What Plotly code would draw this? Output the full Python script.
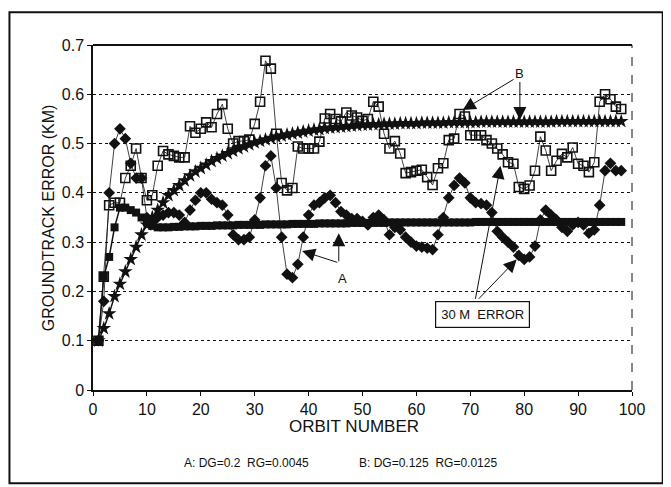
import plotly.graph_objects as go

orbits = list(range(1, 99))

# A: DG=0.2 RG=0.0045 with 30 m error (filled diamonds)
a_err = [0.10, 0.18, 0.40, 0.50, 0.53, 0.51, 0.46, 0.43, 0.43, 0.35,
         0.34, 0.35, 0.355, 0.36, 0.36, 0.355, 0.34, 0.365, 0.385, 0.40,
         0.40, 0.387, 0.38, 0.375, 0.355, 0.315, 0.305, 0.305, 0.31, 0.345,
         0.39, 0.455, 0.475, 0.41, 0.31, 0.235, 0.228, 0.255, 0.31, 0.355,
         0.375, 0.38, 0.39, 0.395, 0.38, 0.362, 0.355, 0.348, 0.348, 0.342,
         0.335, 0.35, 0.355, 0.345, 0.315, 0.33, 0.325, 0.31, 0.30, 0.292,
         0.29, 0.288, 0.285, 0.315, 0.35, 0.39, 0.415, 0.43, 0.42, 0.39,
         0.38, 0.378, 0.375, 0.36, 0.322, 0.31, 0.30, 0.29, 0.273, 0.265,
         0.27, 0.292, 0.345, 0.365, 0.355, 0.345, 0.33, 0.322, 0.335, 0.34,
         0.335, 0.318, 0.325, 0.375, 0.445, 0.46, 0.445, 0.445]

# B: DG=0.125 RG=0.0125 with 30 m error (open squares)
b_err = [0.10, 0.23, 0.375, 0.38, 0.38, 0.43, 0.455, 0.49, 0.43, 0.385,
         0.395, 0.455, 0.485, 0.478, 0.475, 0.472, 0.472, 0.535, 0.522, 0.53,
         0.543, 0.533, 0.56, 0.58, 0.53, 0.50, 0.505, 0.505, 0.508, 0.54,
         0.585, 0.668, 0.652, 0.52, 0.42, 0.405, 0.41, 0.494, 0.49, 0.49,
         0.49, 0.504, 0.551, 0.56, 0.55, 0.545, 0.563, 0.557, 0.553, 0.546,
         0.55, 0.585, 0.575, 0.52, 0.49, 0.505, 0.48, 0.44, 0.442, 0.445,
         0.447, 0.432, 0.416, 0.45, 0.46, 0.507, 0.51, 0.56, 0.555, 0.517,
         0.517, 0.517, 0.507, 0.50, 0.49, 0.478, 0.462, 0.459, 0.412, 0.408,
         0.415, 0.445, 0.514, 0.486, 0.445, 0.465, 0.479, 0.472, 0.492, 0.459,
         0.455, 0.442, 0.462, 0.585, 0.60, 0.59, 0.575, 0.57]

# A without error (filled squares)
a_ref = [0.10, 0.23, 0.27, 0.33, 0.37, 0.37, 0.365, 0.36, 0.35, 0.34,
         0.333, 0.33, 0.33, 0.33, 0.331, 0.331, 0.332, 0.332, 0.332, 0.333,
         0.333, 0.333, 0.334, 0.334, 0.334, 0.334, 0.335, 0.335, 0.335, 0.335,
         0.335, 0.336, 0.336, 0.336, 0.336, 0.336, 0.337, 0.337, 0.337, 0.337,
         0.337, 0.338, 0.338, 0.338, 0.338, 0.338, 0.338, 0.339, 0.339, 0.339,
         0.339, 0.339, 0.339, 0.339, 0.34, 0.34, 0.34, 0.34, 0.34, 0.34,
         0.34, 0.34, 0.34, 0.34, 0.34, 0.34, 0.34, 0.34, 0.34, 0.34,
         0.341, 0.341, 0.341, 0.341, 0.341, 0.341, 0.341, 0.341, 0.341, 0.341,
         0.341, 0.341, 0.341, 0.341, 0.341, 0.341, 0.341, 0.341, 0.341, 0.341,
         0.341, 0.341, 0.341, 0.341, 0.341, 0.341, 0.341, 0.341]

# B without error (stars)
b_ref = [0.10, 0.125, 0.155, 0.19, 0.215, 0.24, 0.265, 0.29, 0.315, 0.335,
         0.35, 0.365, 0.38, 0.395, 0.405, 0.415, 0.425, 0.435, 0.443, 0.45,
         0.457, 0.464, 0.47, 0.475, 0.48, 0.485, 0.49, 0.494, 0.498, 0.502,
         0.505, 0.508, 0.511, 0.514, 0.516, 0.518, 0.52, 0.522, 0.524, 0.526,
         0.528, 0.529, 0.531, 0.532, 0.533, 0.534, 0.535, 0.536, 0.537, 0.538,
         0.538, 0.539, 0.539, 0.54, 0.54, 0.54, 0.541, 0.541, 0.541, 0.541,
         0.542, 0.542, 0.542, 0.542, 0.542, 0.543, 0.543, 0.543, 0.543, 0.543,
         0.543, 0.544, 0.544, 0.544, 0.544, 0.544, 0.544, 0.544, 0.544, 0.544,
         0.544, 0.544, 0.544, 0.544, 0.544, 0.545, 0.545, 0.545, 0.545, 0.545,
         0.545, 0.545, 0.545, 0.545, 0.545, 0.545, 0.545, 0.545]

x_ticks = [0, 10, 20, 30, 40, 50, 60, 70, 80, 90, 100]
y_ticks = [0, 0.1, 0.2, 0.3, 0.4, 0.5, 0.6, 0.7]
y_tick_text = ["0", "0.1", "0.2", "0.3", "0.4", "0.5", "0.6", "0.7"]

FONT = "Liberation Sans, Arial, sans-serif"
INK = "#111111"

fig = go.Figure()
fig.add_trace(go.Scatter(x=orbits, y=b_ref, mode="lines+markers", name="B ref",
                         line=dict(color=INK, width=1.5),
                         marker=dict(symbol="star", size=11, color=INK)))
fig.add_trace(go.Scatter(x=orbits, y=a_ref, mode="lines+markers", name="A ref",
                         line=dict(color=INK, width=1.5),
                         marker=dict(symbol="square", size=8, color=INK)))
fig.add_trace(go.Scatter(x=orbits, y=b_err, mode="lines+markers", name="B 30 m",
                         line=dict(color=INK, width=0.8),
                         marker=dict(symbol="square-open", size=9, color=INK,
                                     line=dict(width=1.6, color=INK))))
fig.add_trace(go.Scatter(x=orbits, y=a_err, mode="lines+markers", name="A 30 m",
                         line=dict(color=INK, width=0.8),
                         marker=dict(symbol="diamond", size=9, color=INK)))

ann = []
def arrow(x_tip, y_tip, x_tail, y_tail):
    ann.append(dict(x=x_tip, y=y_tip, ax=x_tail, ay=y_tail, xref="x", yref="y",
                    axref="x", ayref="y", text="", showarrow=True,
                    arrowhead=2, arrowsize=2.6, arrowwidth=1, arrowcolor=INK))

# B labels
ann.append(dict(x=79.2, y=0.643, xref="x", yref="y", text="B", showarrow=False,
                font=dict(family=FONT, size=13, color=INK)))
arrow(68.6, 0.568, 78.3, 0.632)
arrow(79.2, 0.548, 79.2, 0.628)
# A labels
ann.append(dict(x=46.2, y=0.226, xref="x", yref="y", text="A", showarrow=False,
                font=dict(family=FONT, size=13, color=INK)))
arrow(38.8, 0.282, 45.6, 0.258)
arrow(45.6, 0.318, 45.6, 0.258)
# 30 M ERROR box
ann.append(dict(x=72.2, y=0.18, xref="x", yref="y", text="30 M  ERROR", showarrow=False,
                font=dict(family=FONT, size=13, color=INK),
                bordercolor=INK, borderwidth=1.2, borderpad=5, bgcolor="white",
                xanchor="center", yanchor="top"))
arrow(75.6, 0.455, 70.9, 0.182)
arrow(78.6, 0.265, 71.3, 0.182)

# axis titles and caption
ann.append(dict(x=-0.082, y=0.5, xref="paper", yref="paper", text="GROUNDTRACK ERROR (KM)",
                textangle=-90, showarrow=False, xanchor="center", yanchor="middle",
                font=dict(family=FONT, size=16, color=INK)))
ann.append(dict(x=0.484, y=-0.107, xref="paper", yref="paper", text="ORBIT NUMBER",
                showarrow=False, xanchor="center", yanchor="middle",
                font=dict(family=FONT, size=17, color=INK)))
ann.append(dict(x=0.284, y=-0.212, xref="paper", yref="paper", text="A: DG=0.2  RG=0.0045",
                showarrow=False, xanchor="center", yanchor="middle",
                font=dict(family=FONT, size=12, color=INK)))
ann.append(dict(x=0.622, y=-0.212, xref="paper", yref="paper", text="B: DG=0.125  RG=0.0125",
                showarrow=False, xanchor="center", yanchor="middle",
                font=dict(family=FONT, size=12, color=INK)))

shapes = [
    # top border of plot area
    dict(type="line", xref="paper", yref="paper", x0=0, x1=1, y0=1, y1=1,
         line=dict(color=INK, width=2)),
    # right edge dashed
    dict(type="line", xref="paper", yref="paper", x0=1, x1=1, y0=0, y1=1,
         line=dict(color=INK, width=1, dash="dash")),
    # outer frame
    dict(type="rect", xref="paper", yref="paper", x0=-0.155, x1=1.057, y0=-0.27, y1=1.095,
         line=dict(color=INK, width=2)),
]

# page body has an 8px default margin, so the figure is 8px smaller than the window
fig.update_layout(
    width=663, height=479,
    margin=dict(l=85, r=39, t=37, b=97),
    paper_bgcolor="white", plot_bgcolor="white",
    showlegend=False,
    font=dict(family=FONT, size=16, color=INK),
    annotations=ann, shapes=shapes,
    xaxis=dict(range=[0, 100], tickvals=x_ticks, ticks="outside", ticklen=4,
               tickcolor=INK, showline=True, linecolor=INK, linewidth=2,
               showgrid=False, zeroline=False, tickfont=dict(size=16)),
    yaxis=dict(range=[0, 0.7], tickvals=y_ticks, ticktext=y_tick_text, ticks="outside",
               ticklen=4, tickcolor=INK, showline=True, linecolor=INK, linewidth=1.5,
               showgrid=True, gridcolor=INK, gridwidth=1, griddash="dot",
               zeroline=False, tickfont=dict(size=16)),
)

fig.write_html("out.html")
